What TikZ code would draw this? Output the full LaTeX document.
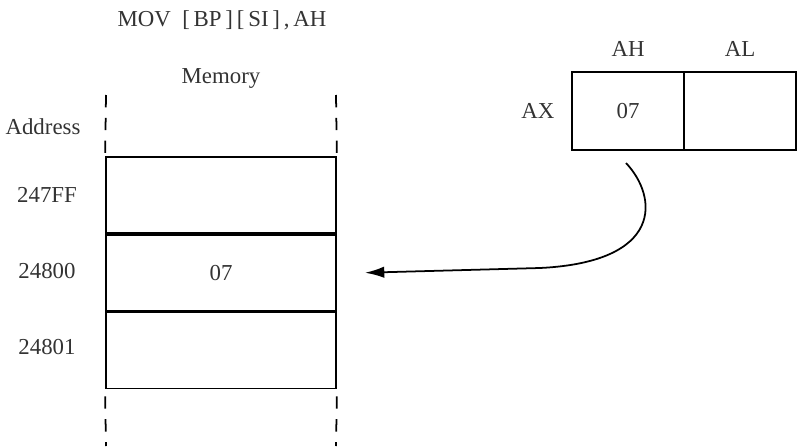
\documentclass[tikz,border=0pt]{standalone}
\usepackage{fontspec}
\setmainfont{Liberation Serif}
\usetikzlibrary{positioning, arrows.meta}
\tikzset{
>={Latex[width=6.5pt,length=11pt]},
every node/.append style={font=\fontsize{13}{15}\selectfont, text=black!80},
cell/.style={draw, line width=1pt, minimum width=4.6cm, minimum height=1.52cm, inner sep=0pt},
reg/.style={draw, line width=1pt, minimum width=2.24cm, minimum height=1.56cm, inner sep=0pt},
side/.style={draw, line width=1pt, dash pattern=on 7pt off 6pt},
}

\begin{document}
\begin{tikzpicture}[x=0.02cm, y=-0.02cm]
            \useasboundingbox (0,0) rectangle (800,446);

            % Memory
            \node[cell] (c1) at (221,195) {};
            \node[cell, below=0pt of c1] (c2) {07};
            \node[cell, below=0pt of c2] (c3) {};
            \node (mem) at (221,78) {Memory};
            \node (ins) at (222,20) {MOV\ \ [\,BP\,]\,[\,SI\,]\,,\,AH};

            % Addresses
            \node (adr) at (43,127) {Address};
            \node (a1) at (47,195) {247FF};
            \node (a2) at (47,271) {24800};
            \node (a3) at (47,347) {24801};

            % Dashed sides
            \coordinate (tl) at (106,95);
            \coordinate (tr) at (336,95);
            \coordinate (bl) at (106,446);
            \coordinate (br) at (336,446);
            \draw[side] (tl) -- (c1.north west);
            \draw[side] (tr) -- (c1.north east);
            \draw[side] ([yshift=-4pt]c3.south west) -- (bl);
            \draw[side] ([yshift=-4pt]c3.south east) -- (br);

            % Register AX
            \node[reg] (ah) at (628,111) {07};
            \node[reg, right=-1pt of ah] (al) {};
            \node[above=5pt of ah] {AH};
            \node[above=5pt of al] {AL};
            \node[left=6pt of ah] {AX};

            % Transfer
            \coordinate (s) at (626,163);
            \coordinate (m) at (540,268);
            \draw[->, line width=1pt] (s) .. controls (658,197) and (664,262) .. (m) -- ([xshift=16pt]c2.east);

     \end{tikzpicture}
\end{document}
